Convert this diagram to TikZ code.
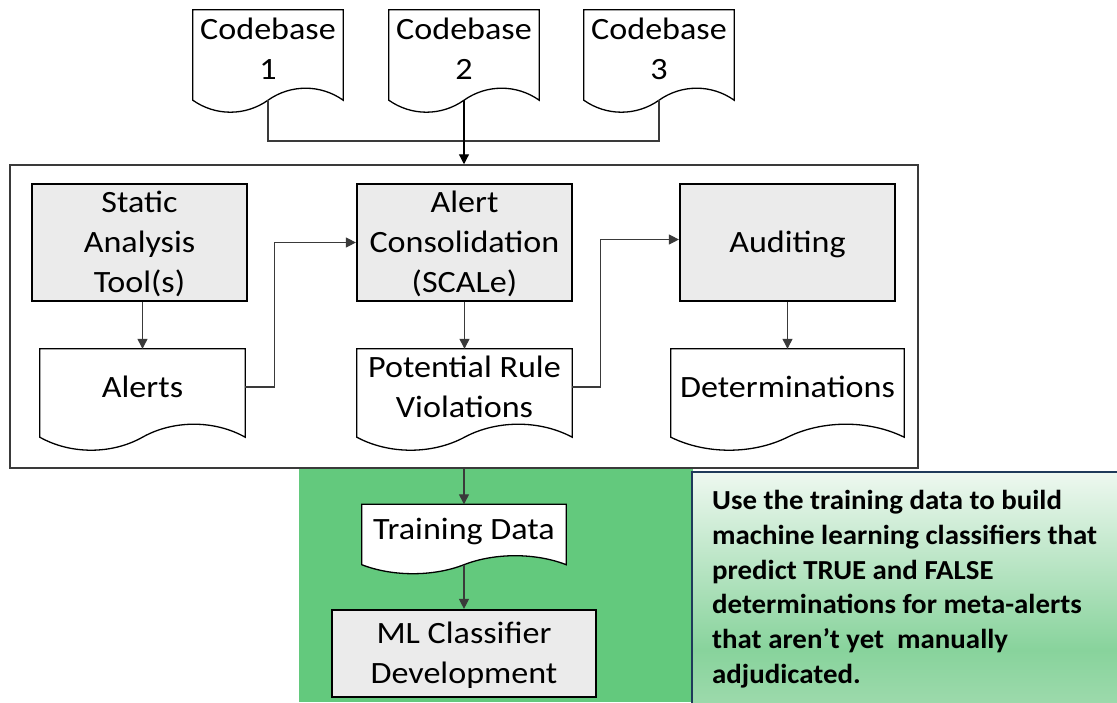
\documentclass[tikz,border=0pt]{standalone}
\usepackage{fontspec}
\setmainfont{Carlito}[FakeStretch=1.1]
\newfontfamily\notefont{Carlito}[FakeStretch=1.05]
\usetikzlibrary{calc,arrows.meta}

\definecolor{boxgray}{HTML}{EBEBEB}
\definecolor{slidegreen}{HTML}{63C97D}
\definecolor{navyedge}{HTML}{1F3A5A}
\definecolor{connline}{HTML}{3A3A3A}
\definecolor{notetop}{HTML}{EEF8F0}
\definecolor{notemid}{HTML}{88D39C}
\definecolor{notebot}{HTML}{9DDAAC}

% Outline of a flowchart "document" symbol: node area plus a wavy bottom edge
\newcommand\docoutline[2][12]{%
  \filldraw[docline]
    (#2.north west) -- (#2.north east) -- (#2.south east)
    .. controls ($(#2.south east)!0.15!(#2.south west)+(0,-#1*4/3)$)
            and ($(#2.south east)!0.35!(#2.south west)+(0,-#1*4/3)$)
    .. (#2.south)
    .. controls ($(#2.south east)!0.65!(#2.south west)+(0,#1*4/3)$)
            and ($(#2.south east)!0.85!(#2.south west)+(0,#1*4/3)$)
    .. (#2.south west) -- cycle;}

\tikzset{
  base/.style={font=\fontsize{31}{40}\selectfont, align=center, inner sep=0pt},
  procbox/.style={base, draw=black, line width=2.2pt, fill=boxgray,
    minimum width=215pt, minimum height=117pt, text depth=2pt},
  docnode/.style={base, text depth=12pt},
  docline/.style={draw=black, line width=1.3pt, fill=white, line join=miter},
  conn/.style={draw=connline, line width=1.2pt},
  arr/.style={conn, -{Triangle[length=10pt,width=10pt]}},
  frame/.style={draw=connline, line width=1.5pt, inner sep=0pt},
  note/.style={font=\notefont\bfseries\fontsize{27.5}{34.8}\selectfont, align=left,
    inner sep=0pt, anchor=north west},
}

\begin{document}
\begin{tikzpicture}[x=1pt, y=-1pt]
\useasboundingbox (0,0) rectangle (1117,702);

% green backdrop of the learning stage
\fill[slidegreen] (299,468) rectangle (693,702);

% note panel with a soft vertical fade
\shade[top color=notetop, bottom color=notemid] (692,472) rectangle (1120,650);
\shade[top color=notemid, bottom color=notebot] (692,650) rectangle (1120,705);
\draw[navyedge, line width=1.5pt] (1120,472) -- (692,472) -- (692,705);

% outer frame of the analysis pipeline
\node[frame, minimum width=908pt, minimum height=303pt] (frame) at (464,316.5) {};

% codebases
\node[docnode, minimum width=150pt, minimum height=90pt] (cb1) at (268,55) {};
\node[docnode, minimum width=150pt, minimum height=90pt] (cb2) at (464,55) {};
\node[docnode, minimum width=150pt, minimum height=90pt] (cb3) at (659,55) {};
\docoutline{cb1}\docoutline{cb2}\docoutline{cb3}
\node[docnode, minimum width=150pt, minimum height=90pt] at (cb1) {Codebase\\1};
\node[docnode, minimum width=150pt, minimum height=90pt] at (cb2) {Codebase\\2};
\node[docnode, minimum width=150pt, minimum height=90pt] at (cb3) {Codebase\\3};

% process boxes
\node[procbox] (sat) at (139.5,242.5) {Static\\Analysis\\Tool(s)};
\node[procbox] (ac)  at (464.5,242.5) {Alert\\Consolidation\\(SCALe)};
\node[procbox] (aud) at (787.5,242.5) {Auditing};

% document outputs
\node[docnode, minimum width=205pt, minimum height=88pt] (alerts) at (142.5,393) {};
\node[docnode, minimum width=215pt, minimum height=88pt] (prv) at (464.5,393) {};
\node[docnode, minimum width=233pt, minimum height=88pt] (det) at (787.5,393) {};
\node[docnode, minimum width=204pt, minimum height=60pt] (td) at (464,534.5) {};
\docoutline[13]{alerts}\docoutline[13]{prv}\docoutline[13]{det}\docoutline[9]{td}
\node[docnode, minimum width=205pt, minimum height=88pt] at (alerts) {Alerts};
\node[docnode, minimum width=215pt, minimum height=88pt] at (prv) {Potential Rule\\Violations};
\node[docnode, minimum width=233pt, minimum height=88pt] at (det) {Determinations};
\node[docnode, minimum width=204pt, minimum height=60pt] at (td) {Training Data};

% classifier development
\node[procbox, minimum width=264pt, minimum height=87pt] (mlc) at (464,653.5) {ML Classifier\\Development};

% connectors
\coordinate (bus) at (464,141);
\draw[conn] (cb1.south) |- (bus) -| (cb3.south);
\draw[arr, draw=black] (cb2.south) -- (frame.north);
\draw[arr] (sat.south -| alerts.north) -- (alerts.north);
\draw[arr] (ac.south) -- (prv.north);
\draw[arr] (aud.south) -- (det.north);
\draw[arr] ([yshift=6pt]alerts.east) -- ++(29,0) |- (ac.west);
\draw[arr] ([yshift=6pt]prv.east) -- ++(28,0) |- ([yshift=3pt]aud.west);
\draw[arr] (frame.south -| td.north) -- (td.north);
\draw[arr] (td.south) -- (mlc.north);

% explanatory note
\node[note] (txt) at (712,490) {Use the training data to build\\
machine learning classifiers that\\
predict TRUE and FALSE\\
determinations for meta-alerts\\
that aren’t yet\ \ manually\\
adjudicated.};
\end{tikzpicture}
\end{document}
